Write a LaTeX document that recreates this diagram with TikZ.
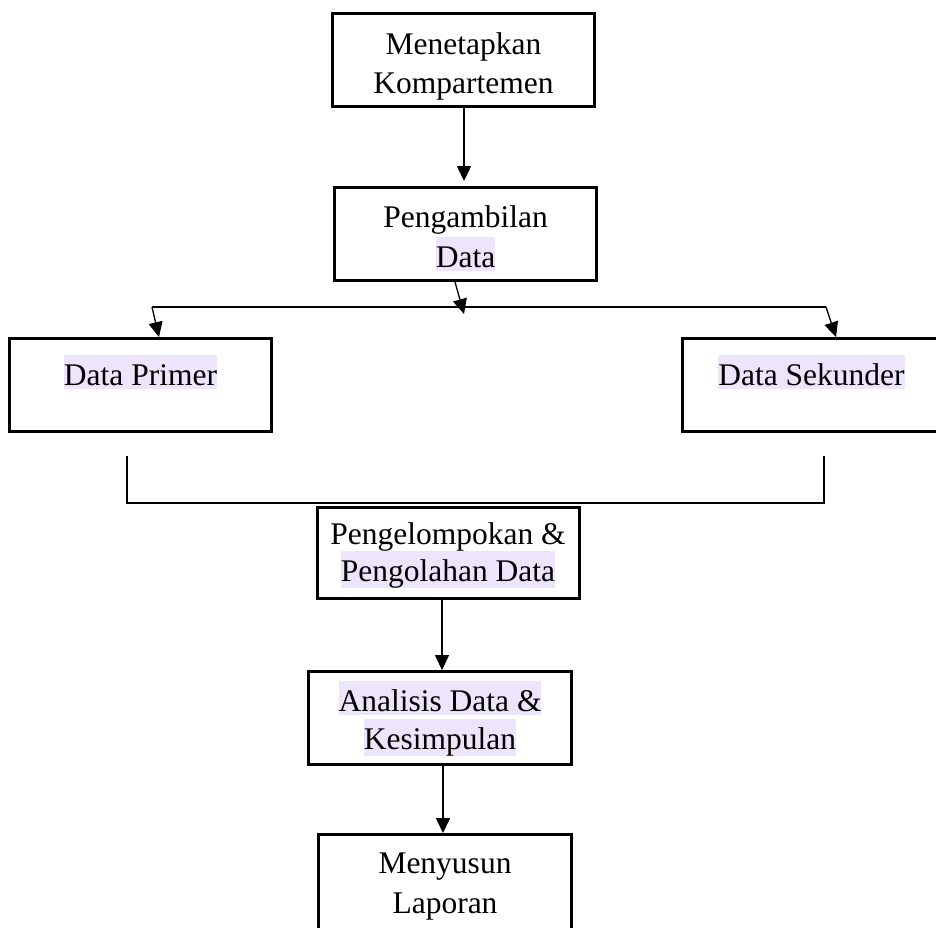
\documentclass[tikz,border=0pt]{standalone}
\usepackage{fontspec}
\setmainfont{Liberation Serif}
\usetikzlibrary{arrows.meta}
\definecolor{hlc}{RGB}{237,229,251}
\newcommand{\hlt}[1]{{\setlength{\fboxsep}{0pt}\colorbox{hlc}{\rule[-3.5pt]{0pt}{33.5pt}#1}}}
\begin{document}
\begin{tikzpicture}[x=1pt,y=-1pt,
  box/.style={draw, line width=2.9pt, rectangle, inner sep=0pt, minimum width=262pt, minimum height=93pt},
  txt/.style={inner sep=0pt, anchor=base, font=\fontsize{31.5}{38}\selectfont},
  conn/.style={line width=1.3pt},
  arr/.style={line width=1.3pt, -{Triangle[length=15pt,width=14pt]}}]
\useasboundingbox (0,0) rectangle (936,927);
% boxes
\node[box] (b1) at (463.5,60) {};
\node[box] (b2) at (465.5,234) {};
\node[box] (dp) at (140.5,385) {};
\node[box] (ds) at (813.5,385) {};
\node[box, minimum height=91pt] (pk) at (448.5,553) {};
\node[box, minimum width=263pt] (an) at (440,718) {};
\node[box, minimum width=253pt, minimum height=110pt] (mn) at (445,889.5) {};
% texts
\node[txt] (t1a) at (463.5,54) {Menetapkan};
\node[txt] (t1b) at (463.5,93) {Kompartemen};
\node[txt] (t2a) at (465.5,227) {Pengambilan};
\node[txt] (t2b) at (465.5,267) {\hlt{Data}};
\node[txt] (tdp) at (140.5,385) {\hlt{Data Primer}};
\node[txt] (tds) at (811.5,385) {\hlt{Data Sekunder}};
\node[txt] (tpa) at (448,544) {Pengelompokan \&};
\node[txt] (tpb) at (448,581) {\hlt{Pengolahan Data}};
\node[txt] (taa) at (440,711) {\hlt{Analisis Data \&}};
\node[txt] (tab) at (440,749) {\hlt{Kesimpulan}};
\node[txt] (tma) at (445,873) {Menyusun};
\node[txt] (tmb) at (445,913) {Laporan};
% coordinates
\coordinate (hl) at (152,307);
\coordinate (hr) at (826,307);
\coordinate (ctip) at (464,314);
\coordinate (mL) at (127,456);
\coordinate (jL) at (127,503);
\coordinate (jR) at (824,503);
\coordinate (mR) at (824,456);
% connectors
\draw[arr, shorten >=5pt] ([xshift=0.5pt]b1.south) -- ([xshift=-1.5pt]b2.north);
\draw[arr] ([xshift=-10.5pt]b2.south) -- (ctip);
\draw[conn] (hl) -- (hr);
\draw[arr] (hl) -- ([xshift=18.5pt]dp.north);
\draw[arr] (hr) -- ([xshift=22.5pt]ds.north);
\draw[conn] (mL) -- (jL) -- (jR) -- (mR);
\draw[arr] ([xshift=2pt]an.north |- pk.south) -- ([xshift=2pt]an.north);
\draw[arr] ([xshift=3pt]an.south) -- ([xshift=3pt]an.south |- mn.north);
\end{tikzpicture}
\end{document}
